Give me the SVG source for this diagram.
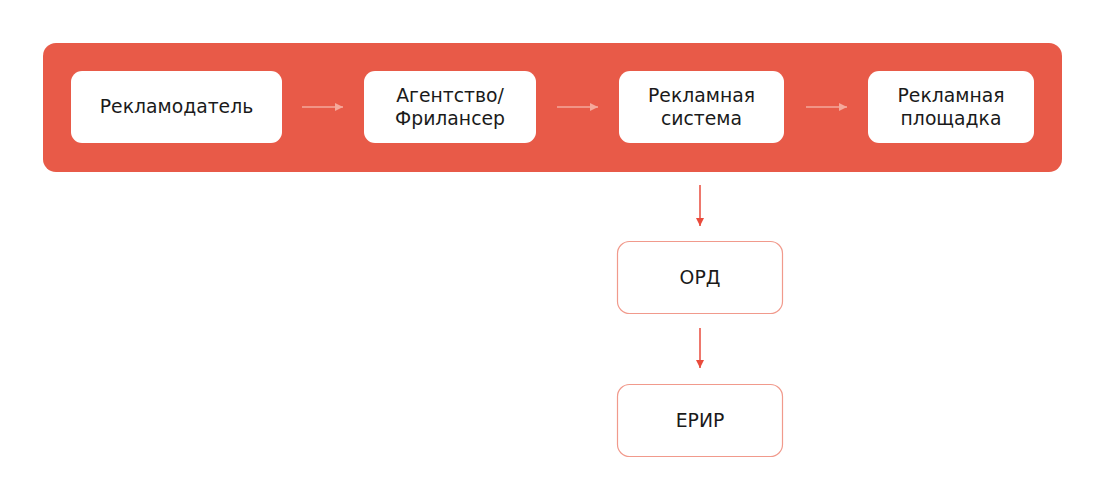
<svg xmlns="http://www.w3.org/2000/svg" width="1105" height="499" viewBox="0 0 1105 499">
<style>
.lbl{font-family:"DejaVu Sans","Liberation Sans",sans-serif;font-size:18.8px;fill:#1a1a1a;text-anchor:middle}
.wb{fill:#ffffff}
.ob{fill:#ffffff;stroke:#f19a8c;stroke-width:1.2}
.ha{stroke:#f5a99b;stroke-width:1.5;fill:none}
.va{stroke:#e94b3c;stroke-width:1.5;fill:none}
</style>
<defs>
<marker id="mh" markerWidth="10" markerHeight="10" refX="8" refY="4" orient="auto" markerUnits="userSpaceOnUse"><path d="M0,0 L8,4 L0,8 Z" fill="#f5a99b"/></marker>
<marker id="mv" markerWidth="10" markerHeight="10" refX="8" refY="4" orient="auto" markerUnits="userSpaceOnUse"><path d="M0,0 L8,4 L0,8 Z" fill="#e94b3c"/></marker>
</defs>
<rect width="1105" height="499" fill="#ffffff"/>
<rect id="panel" x="43" y="43" width="1019" height="129" rx="13" fill="#e85a48"/>
<g id="n1"><rect class="wb" x="71" y="71" width="211" height="72" rx="11"/><text class="lbl" x="176.5" y="113">Рекламодатель</text></g>
<g id="n2"><rect class="wb" x="364" y="71" width="172" height="72" rx="11"/><text class="lbl" x="450" y="102">Агентство/</text><text class="lbl" x="450" y="125">Фрилансер</text></g>
<g id="n3"><rect class="wb" x="619" y="71" width="165" height="72" rx="11"/><text class="lbl" x="701.5" y="102">Рекламная</text><text class="lbl" x="701.5" y="125">система</text></g>
<g id="n4"><rect class="wb" x="868" y="71" width="166" height="72" rx="11"/><text class="lbl" x="951" y="102">Рекламная</text><text class="lbl" x="951" y="125">площадка</text></g>
<g id="n5"><rect class="ob" x="617.5" y="241.5" width="165" height="72" rx="12"/><text class="lbl" x="700" y="284">ОРД</text></g>
<g id="n6"><rect class="ob" x="617.5" y="384.5" width="165" height="72" rx="12"/><text class="lbl" x="700" y="427">ЕРИР</text></g>
<g id="connectors">
<line class="ha" x1="302" y1="107" x2="343" y2="107" marker-end="url(#mh)"/>
<line class="ha" x1="557" y1="107" x2="598" y2="107" marker-end="url(#mh)"/>
<line class="ha" x1="806" y1="107" x2="847" y2="107" marker-end="url(#mh)"/>
<line class="va" x1="700" y1="185" x2="700" y2="226" marker-end="url(#mv)"/>
<line class="va" x1="700" y1="328" x2="700" y2="368" marker-end="url(#mv)"/>
</g>
</svg>
